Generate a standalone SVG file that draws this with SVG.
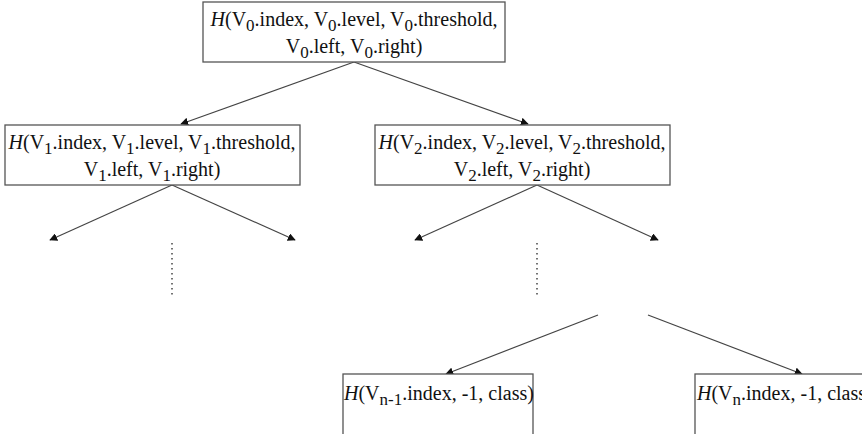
<svg xmlns="http://www.w3.org/2000/svg" width="862" height="434" viewBox="0 0 862 434">
  <style>
    .box { fill: #ffffff; stroke: #555555; stroke-width: 1.3; }
    .lbl { font-family: "Liberation Serif", "Times New Roman", serif; font-size: 20px; fill: #111111; }
    .it { font-style: italic; }
    .sub { font-size: 17px; }
    .edge { stroke: #444444; stroke-width: 1.2; fill: none; }
    .dots { stroke: #444444; stroke-width: 1.5; stroke-dasharray: 1.5 3.5; fill: none; }
  </style>
  <defs>
    <marker id="arrow" viewBox="0 0 10 10" refX="9" refY="5" markerWidth="8" markerHeight="8" markerUnits="userSpaceOnUse" orient="auto">
      <path d="M0,0 L10,5 L0,10 z" fill="#111111"/>
    </marker>
  </defs>

  <rect width="862" height="434" fill="#ffffff"/>

  <g id="connectors">
    <line class="edge" x1="354" y1="62" x2="181" y2="124" marker-end="url(#arrow)"/>
    <line class="edge" x1="354" y1="62" x2="528" y2="124" marker-end="url(#arrow)"/>
    <line class="edge" x1="172" y1="185" x2="50" y2="240" marker-end="url(#arrow)"/>
    <line class="edge" x1="172" y1="185" x2="295" y2="240" marker-end="url(#arrow)"/>
    <line class="edge" x1="537" y1="185" x2="415" y2="240" marker-end="url(#arrow)"/>
    <line class="edge" x1="537" y1="185" x2="658" y2="240" marker-end="url(#arrow)"/>
    <line class="dots" x1="172" y1="243" x2="172" y2="298"/>
    <line class="dots" x1="537" y1="243" x2="537" y2="298"/>
    <line class="edge" x1="598" y1="315" x2="446" y2="374" marker-end="url(#arrow)"/>
    <line class="edge" x1="648" y1="315" x2="802" y2="374" marker-end="url(#arrow)"/>
  </g>

  <g id="node-v0">
    <rect class="box" x="203" y="2" width="302" height="60"/>
    <text class="lbl" x="354" y="26" text-anchor="middle"><tspan class="it">H</tspan>(V<tspan class="sub" dy="5">0</tspan><tspan dy="-5">.index, V</tspan><tspan class="sub" dy="5">0</tspan><tspan dy="-5">.level, V</tspan><tspan class="sub" dy="5">0</tspan><tspan dy="-5">.threshold,</tspan></text>
    <text class="lbl" x="354" y="53" text-anchor="middle">V<tspan class="sub" dy="5">0</tspan><tspan dy="-5">.left, V</tspan><tspan class="sub" dy="5">0</tspan><tspan dy="-5">.right)</tspan></text>
  </g>

  <g id="node-v1">
    <rect class="box" x="5" y="125" width="295" height="60"/>
    <text class="lbl" x="152" y="149" text-anchor="middle"><tspan class="it">H</tspan>(V<tspan class="sub" dy="5">1</tspan><tspan dy="-5">.index, V</tspan><tspan class="sub" dy="5">1</tspan><tspan dy="-5">.level, V</tspan><tspan class="sub" dy="5">1</tspan><tspan dy="-5">.threshold,</tspan></text>
    <text class="lbl" x="152" y="176" text-anchor="middle">V<tspan class="sub" dy="5">1</tspan><tspan dy="-5">.left, V</tspan><tspan class="sub" dy="5">1</tspan><tspan dy="-5">.right)</tspan></text>
  </g>

  <g id="node-v2">
    <rect class="box" x="375" y="125" width="295" height="60"/>
    <text class="lbl" x="522" y="149" text-anchor="middle"><tspan class="it">H</tspan>(V<tspan class="sub" dy="5">2</tspan><tspan dy="-5">.index, V</tspan><tspan class="sub" dy="5">2</tspan><tspan dy="-5">.level, V</tspan><tspan class="sub" dy="5">2</tspan><tspan dy="-5">.threshold,</tspan></text>
    <text class="lbl" x="522" y="176" text-anchor="middle">V<tspan class="sub" dy="5">2</tspan><tspan dy="-5">.left, V</tspan><tspan class="sub" dy="5">2</tspan><tspan dy="-5">.right)</tspan></text>
  </g>

  <g id="node-vn-1">
    <rect class="box" x="343" y="374" width="190" height="70"/>
    <text class="lbl" x="344" y="400"><tspan class="it">H</tspan>(V<tspan class="sub" dy="5">n-1</tspan><tspan dy="-5">.index, -1, class)</tspan></text>
  </g>

  <g id="node-vn">
    <rect class="box" x="695" y="374" width="190" height="70"/>
    <text class="lbl" x="697" y="400"><tspan class="it">H</tspan>(V<tspan class="sub" dy="5">n</tspan><tspan dy="-5">.index, -1, class)</tspan></text>
  </g>
</svg>
